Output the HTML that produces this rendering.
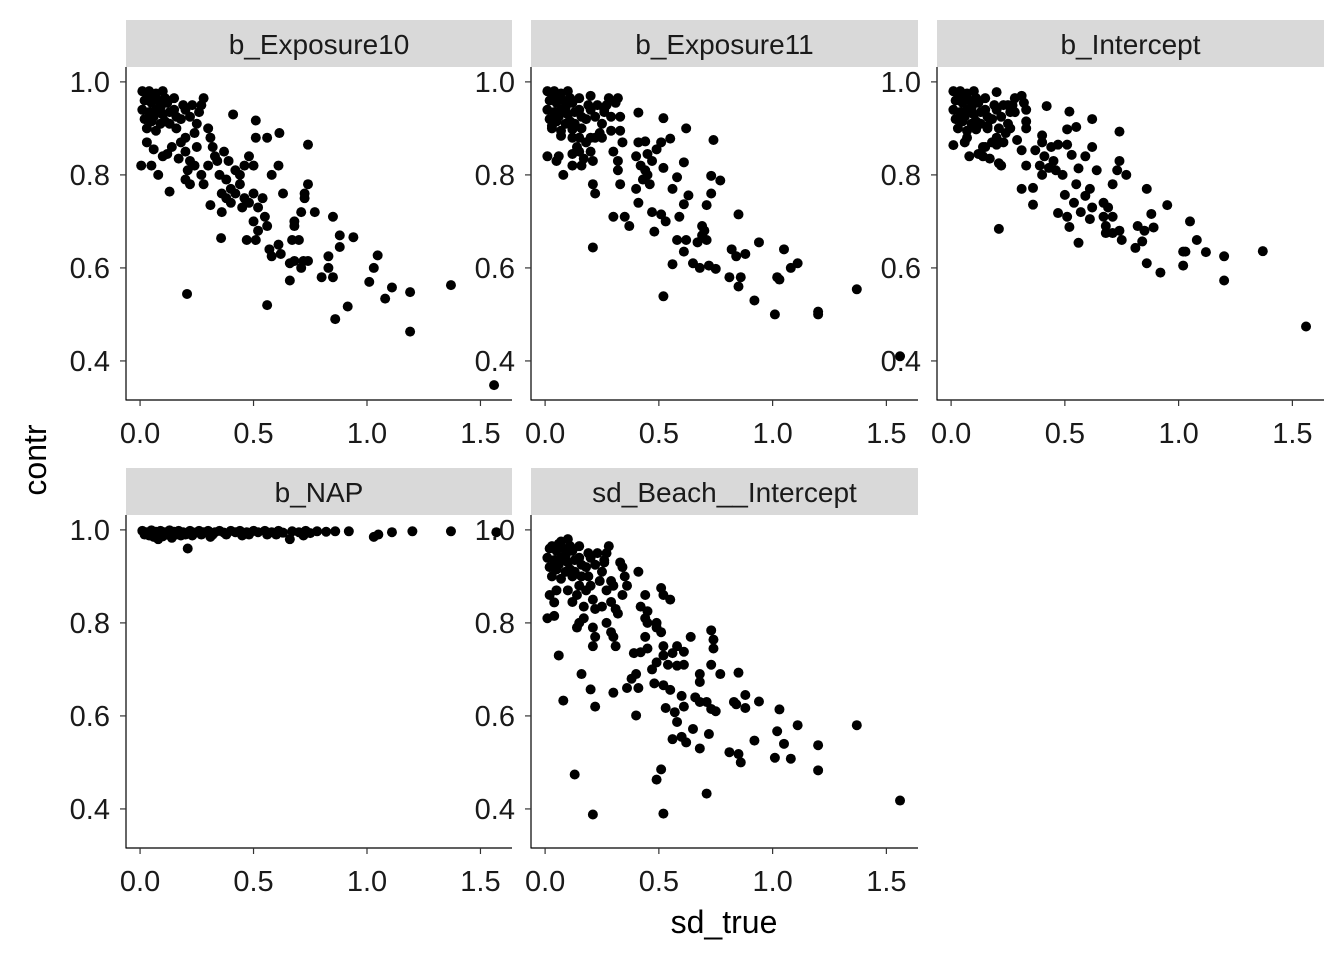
<!DOCTYPE html>
<html><head><meta charset="utf-8"><style>
body{margin:0;background:#fff;}
svg{display:block;font-family:"Liberation Sans",sans-serif;}
</style></head><body>
<svg id="chart" width="1344" height="960"></svg>
<script>
const panelTitles=["b_Exposure10","b_Exposure11","b_Intercept","b_NAP","sd_Beach__Intercept"];
const xTicks=[0,0.5,1.0,1.5];
const xTickLabels=["0.0","0.5","1.0","1.5"];
const yTicks=[0.4,0.6,0.8,1.0];
const yTickLabels=["0.4","0.6","0.8","1.0"];
const clusterTL=[[0.01,0.98],[0.04,0.98],[0.07,0.975],[0.1,0.98],[0.02,0.96],[0.05,0.955],[0.08,0.96],[0.12,0.955],[0.15,0.965],[0.01,0.94],[0.04,0.935],[0.07,0.94],[0.1,0.93],[0.13,0.935],[0.02,0.92],[0.05,0.915],[0.09,0.91],[0.13,0.91],[0.03,0.9],[0.07,0.895],[0.16,0.9],[0.18,0.92],[0.2,0.94],[0.22,0.925],[0.25,0.91],[0.27,0.95],[0.28,0.965],[0.26,0.935],[0.24,0.89],[0.2,0.88],[0.18,0.87],[0.14,0.86],[0.12,0.845],[0.17,0.835],[0.03,0.965],[0.06,0.97],[0.09,0.945],[0.11,0.965],[0.15,0.94],[0.06,0.925],[0.11,0.915],[0.16,0.925],[0.19,0.95],[0.23,0.95]];
const p1Points=[[0.03,0.87],[0.06,0.855],[0.1,0.84],[0.2,0.85],[0.22,0.83],[0.25,0.86],[0.3,0.9],[0.31,0.88],[0.27,0.8],[0.28,0.78],[0.24,0.82],[0.21,0.81],
[1.56,0.348],[1.19,0.463],[1.37,0.563],[1.19,0.548],[1.11,0.558],[1.08,0.534],[0.915,0.517],[0.86,0.49],[0.56,0.52],[0.207,0.544],[1.047,0.627],[1.03,0.6],[1.01,0.57],[0.94,0.666],[0.88,0.67],[0.88,0.645],[0.83,0.625],[0.83,0.6],[0.8,0.58],[0.85,0.58],[0.74,0.865],[0.74,0.78],[0.725,0.76],[0.725,0.75],[0.77,0.72],[0.85,0.71],[0.71,0.72],[0.614,0.89],[0.61,0.82],[0.58,0.8],[0.63,0.76],[0.56,0.88],[0.51,0.88],[0.51,0.917],[0.41,0.93],[0.68,0.7],[0.68,0.69],[0.67,0.66],[0.7,0.66],[0.61,0.65],[0.57,0.64],[0.58,0.625],[0.62,0.63],[0.66,0.61],[0.68,0.615],[0.71,0.6],[0.72,0.615],[0.74,0.615],[0.66,0.573],[0.357,0.664],[0.47,0.66],[0.51,0.66],[0.31,0.735],[0.36,0.72],[0.13,0.764],[0.2,0.79],[0.22,0.78],[0.005,0.82],[0.05,0.82],[0.08,0.8],
[0.37,0.85],[0.39,0.83],[0.42,0.81],[0.44,0.8],[0.46,0.82],[0.48,0.84],[0.5,0.82],[0.35,0.8],[0.38,0.79],[0.4,0.77],[0.42,0.76],[0.44,0.78],[0.46,0.75],[0.48,0.74],[0.5,0.76],[0.52,0.73],[0.54,0.75],[0.5,0.7],[0.52,0.68],[0.55,0.71],[0.56,0.69],[0.4,0.74],[0.36,0.76],[0.38,0.75],[0.45,0.73],[0.32,0.86],[0.33,0.84],[0.3,0.82],[0.34,0.83]];
const p2Points=[[1.56,0.41],[1.37,0.554],[1.2,0.5],[1.2,0.506],[1.01,0.5],[0.92,0.53],[0.85,0.56],[0.81,0.58],[0.86,0.58],[1.03,0.575],[1.02,0.58],[1.11,0.61],[1.08,0.6],[1.05,0.64],[0.94,0.655],[0.85,0.715],[0.82,0.64],[0.88,0.63],[0.84,0.625],[0.74,0.875],[0.73,0.798],[0.77,0.788],[0.73,0.76],[0.71,0.735],[0.62,0.9],[0.61,0.827],[0.58,0.795],[0.52,0.922],[0.41,0.934],[0.55,0.878],[0.51,0.87],[0.52,0.815],[0.56,0.77],[0.63,0.756],[0.61,0.737],[0.59,0.71],[0.52,0.539],[0.21,0.644],[0.56,0.608],[0.48,0.678],[0.58,0.66],[0.62,0.66],[0.67,0.655],[0.71,0.66],[0.61,0.635],[0.65,0.61],[0.68,0.6],[0.72,0.605],[0.75,0.598],[0.69,0.69],[0.7,0.68],[0.69,0.67],[0.3,0.71],[0.35,0.71],[0.37,0.69],[0.21,0.78],[0.22,0.76],[0.33,0.78],[0.4,0.77],[0.41,0.74],[0.47,0.72],[0.51,0.715],[0.53,0.7],[0.08,0.8],[0.01,0.84],[0.06,0.84],[0.05,0.83],[0.12,0.82],[0.16,0.82],[0.15,0.85],[0.03,0.906],[0.07,0.884],[0.12,0.898],[0.12,0.88],[0.15,0.88],[0.34,0.87],[0.41,0.87],[0.44,0.872],[0.4,0.84],[0.45,0.845],[0.49,0.855],[0.43,0.79],[0.46,0.78],[0.3,0.85],[0.32,0.83],[0.32,0.81],[0.21,0.83],[0.2,0.85],[0.22,0.88],[0.25,0.88],[0.29,0.895],[0.33,0.895],[0.33,0.925],[0.26,0.94],[0.29,0.925],[0.32,0.965],[0.31,0.955],[0.2,0.97],[0.42,0.82],[0.44,0.81],[0.47,0.83],[0.45,0.8]];
const p3Points=[[1.56,0.474],[1.37,0.636],[1.2,0.625],[1.2,0.573],[1.12,0.634],[1.08,0.66],[1.05,0.7],[1.02,0.635],[1.03,0.635],[1.02,0.605],[0.92,0.59],[0.86,0.61],[0.95,0.735],[0.88,0.716],[0.89,0.687],[0.86,0.77],[0.82,0.69],[0.85,0.68],[0.81,0.643],[0.84,0.657],[0.74,0.893],[0.74,0.83],[0.73,0.81],[0.77,0.8],[0.71,0.78],[0.62,0.92],[0.62,0.86],[0.59,0.84],[0.56,0.814],[0.64,0.81],[0.52,0.936],[0.55,0.903],[0.51,0.898],[0.42,0.948],[0.53,0.843],[0.21,0.684],[0.56,0.654],[0.52,0.688],[0.47,0.718],[0.51,0.71],[0.36,0.736],[0.31,0.77],[0.36,0.772],[0.54,0.74],[0.5,0.757],[0.55,0.78],[0.59,0.755],[0.61,0.77],[0.57,0.72],[0.62,0.73],[0.61,0.705],[0.67,0.74],[0.69,0.73],[0.67,0.71],[0.71,0.71],[0.68,0.69],[0.68,0.675],[0.71,0.675],[0.74,0.68],[0.75,0.66],[0.21,0.825],[0.22,0.82],[0.33,0.82],[0.08,0.84],[0.14,0.84],[0.01,0.864],[0.06,0.87],[0.07,0.88],[0.15,0.86],[0.2,0.865],[0.23,0.87],[0.29,0.875],[0.31,0.853],[0.37,0.853],[0.39,0.82],[0.4,0.8],[0.4,0.885],[0.4,0.87],[0.44,0.86],[0.47,0.865],[0.51,0.865],[0.41,0.84],[0.45,0.83],[0.43,0.815],[0.46,0.81],[0.49,0.8],[0.33,0.915],[0.33,0.9],[0.11,0.898],[0.16,0.905],[0.04,0.92],[0.21,0.9],[0.26,0.9],[0.31,0.97],[0.32,0.955],[0.33,0.94],[0.25,0.95],[0.28,0.935],[0.2,0.978]];
const p4Points=[[0.21,0.96],[0.08,0.98],[0.66,0.98],[0.31,0.985],[1.57,0.995],[1.37,0.997],[1.2,0.997],[1.05,0.99],[1.03,0.985],[1.11,0.995],[0.92,0.997],[0.86,0.997],[0.01,0.998],[0.03,0.995],[0.05,0.999],[0.07,0.996],[0.09,0.998],[0.11,0.995],[0.13,0.999],[0.15,0.996],[0.17,0.998],[0.19,0.995],[0.22,0.998],[0.24,0.994],[0.26,0.998],[0.28,0.995],[0.3,0.998],[0.33,0.995],[0.35,0.998],[0.37,0.994],[0.4,0.998],[0.42,0.995],[0.44,0.998],[0.47,0.995],[0.5,0.998],[0.52,0.995],[0.55,0.998],[0.58,0.995],[0.61,0.998],[0.63,0.994],[0.67,0.997],[0.7,0.995],[0.73,0.998],[0.75,0.993],[0.78,0.997],[0.82,0.996],[0.04,0.988],[0.12,0.99],[0.18,0.988],[0.27,0.99],[0.38,0.99],[0.45,0.988],[0.56,0.99],[0.72,0.988],[0.06,0.985],[0.14,0.983],[0.02,0.99],[0.1,0.986],[0.16,0.99],[0.2,0.99],[0.23,0.988],[0.32,0.99],[0.48,0.99],[0.6,0.99]];
const p5Points=[[1.56,0.418],[1.37,0.58],[1.2,0.537],[1.2,0.483],[1.11,0.58],[1.08,0.508],[1.01,0.51],[1.05,0.54],[1.02,0.567],[1.03,0.614],[0.94,0.631],[0.92,0.547],[0.88,0.645],[0.88,0.617],[0.83,0.63],[0.84,0.625],[0.85,0.693],[0.81,0.522],[0.85,0.518],[0.86,0.5],[0.77,0.69],[0.73,0.71],[0.73,0.784],[0.74,0.764],[0.74,0.745],[0.68,0.69],[0.68,0.673],[0.72,0.561],[0.71,0.433],[0.68,0.53],[0.65,0.572],[0.62,0.543],[0.6,0.555],[0.56,0.55],[0.58,0.587],[0.57,0.608],[0.53,0.617],[0.61,0.62],[0.6,0.643],[0.66,0.64],[0.68,0.63],[0.71,0.63],[0.73,0.615],[0.75,0.61],[0.52,0.39],[0.49,0.463],[0.51,0.485],[0.21,0.388],[0.13,0.474],[0.08,0.633],[0.4,0.601],[0.3,0.65],[0.22,0.62],[0.2,0.657],[0.16,0.69],[0.06,0.73],[0.36,0.66],[0.38,0.68],[0.4,0.69],[0.41,0.66],[0.48,0.67],[0.47,0.7],[0.49,0.715],[0.54,0.71],[0.58,0.708],[0.61,0.71],[0.52,0.73],[0.52,0.75],[0.56,0.735],[0.58,0.75],[0.61,0.738],[0.64,0.77],[0.39,0.735],[0.42,0.737],[0.45,0.745],[0.52,0.666],[0.55,0.656],[0.44,0.77],[0.49,0.79],[0.44,0.81],[0.42,0.835],[0.45,0.825],[0.51,0.78],[0.49,0.8],[0.45,0.8],[0.41,0.91],[0.44,0.86],[0.51,0.875],[0.52,0.86],[0.55,0.85],[0.31,0.75],[0.3,0.77],[0.29,0.78],[0.21,0.75],[0.21,0.79],[0.22,0.77],[0.27,0.8],[0.14,0.79],[0.17,0.81],[0.15,0.8],[0.04,0.844],[0.01,0.81],[0.04,0.815],[0.21,0.85],[0.22,0.83],[0.25,0.835],[0.29,0.845],[0.32,0.82],[0.31,0.83],[0.26,0.93],[0.33,0.93],[0.35,0.9],[0.36,0.88],[0.34,0.92],[0.3,0.88],[0.27,0.87],[0.29,0.89],[0.34,0.86],[0.02,0.86],[0.05,0.87],[0.1,0.87],[0.15,0.88],[0.19,0.9],[0.12,0.9]];
const panelData=[p1Points.concat(clusterTL),p2Points.concat(clusterTL),p3Points.concat(clusterTL),p4Points,p5Points.concat(clusterTL.slice(2))];

const NS="http://www.w3.org/2000/svg";
const svg=document.getElementById('chart');
function mk(tag,attrs,parent){const e=document.createElementNS(NS,tag);for(const k in attrs)e.setAttribute(k,attrs[k]);(parent||svg).appendChild(e);return e;}
const cols=[[126,512],[531,918],[937,1324]];
const rows=[{s:20,t:67,b:400},{s:468,t:515,b:848}];
const xMin=-0.062,xMax=1.639,yMin=0.316,yMax=1.032;
panelTitles.forEach((title,i)=>{
  const c=cols[i%3],r=rows[Math.floor(i/3)];
  const g=mk('g',{});
  
  
  const sx=v=>c[0]+(v-xMin)/(xMax-xMin)*(c[1]-c[0]);
  const sy=v=>r.b-(v-yMin)/(yMax-yMin)*(r.b-r.t);
  const strip=mk('rect',{x:c[0],y:r.s,width:c[1]-c[0],height:r.t-r.s,fill:'#d9d9d9'},g);
  
  
  const st=mk('text',{x:(c[0]+c[1])/2,y:r.s+34,'text-anchor':'middle','font-size':28,fill:'#1a1a1a'},g);
  st.textContent=title;
  
  
  const ya=mk('line',{x1:c[0],y1:r.t,x2:c[0],y2:r.b+0.5,stroke:'#000','stroke-width':1.2},g);
  
  
  const xa=mk('line',{x1:c[0],y1:r.b,x2:c[1],y2:r.b,stroke:'#000','stroke-width':1.2},g);
  
  
  yTicks.forEach((v,j)=>{
    const tk=mk('line',{x1:c[0]-6,y1:sy(v),x2:c[0],y2:sy(v),stroke:'#333','stroke-width':1.2},g);
    
    
    const tl=mk('text',{x:c[0]-16,y:sy(v)+10,'text-anchor':'end','font-size':29,fill:'#1a1a1a'},g);
    tl.textContent=yTickLabels[j];
    
    
  });
  xTicks.forEach((v,j)=>{
    const tk=mk('line',{x1:sx(v),y1:r.b,x2:sx(v),y2:r.b+6,stroke:'#333','stroke-width':1.2},g);
    
    
    const tl=mk('text',{x:sx(v),y:r.b+43,'text-anchor':'middle','font-size':29,fill:'#1a1a1a'},g);
    tl.textContent=xTickLabels[j];
    
    
  });
  panelData[i].forEach(d=>{
    const p=mk('circle',{cx:sx(d[0]),cy:sy(d[1]),r:5,fill:'#000'},g);
    
    
  });
});
const yt=mk('text',{x:0,y:0,transform:'translate(46,460) rotate(-90)','text-anchor':'middle','font-size':32,fill:'#000'});
yt.textContent='contr';


const xt=mk('text',{x:724,y:933,'text-anchor':'middle','font-size':32,fill:'#000'});
xt.textContent='sd_true';


</script>
</body></html>
